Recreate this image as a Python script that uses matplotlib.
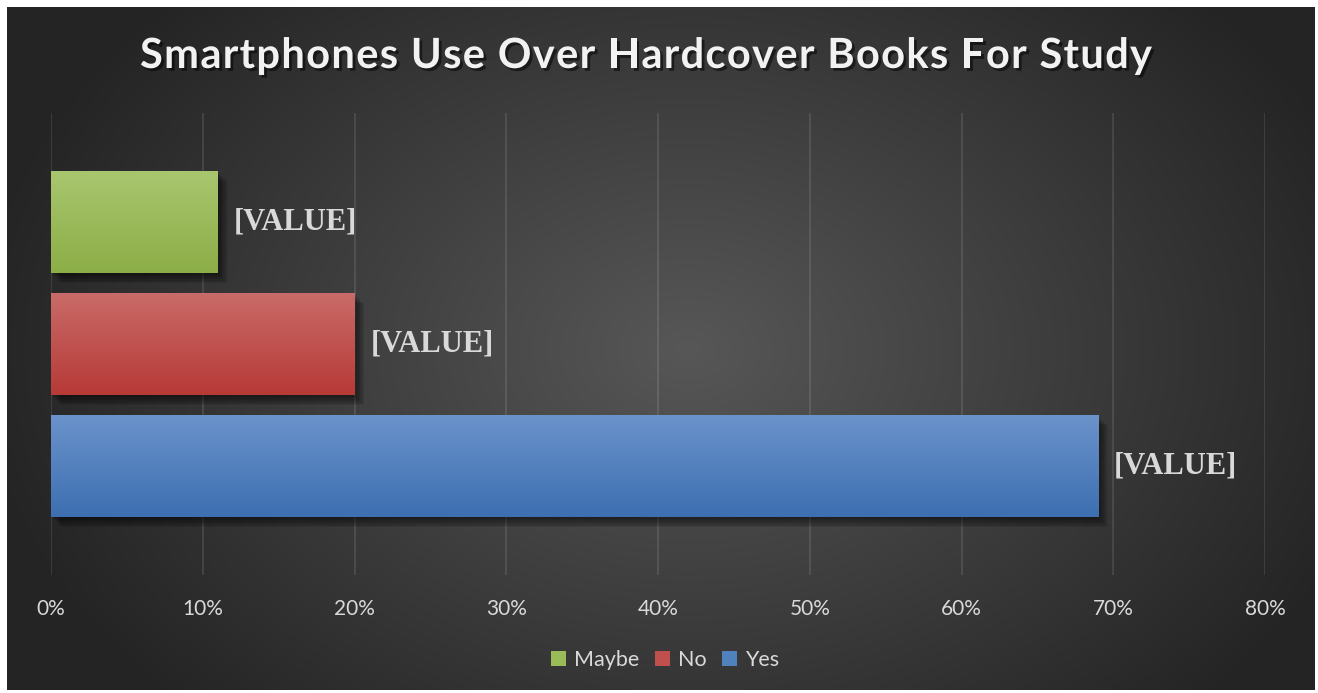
import numpy as np
import matplotlib
matplotlib.use("Agg")
import matplotlib.pyplot as plt
import matplotlib.patheffects as pe
from matplotlib.colors import to_rgb
from matplotlib.patches import Patch

# ---- data ----
categories = ["Maybe", "No", "Yes"]
values = [11, 20, 69]
value_labels = ["[VALUE]", "[VALUE]", "[VALUE]"]
xticks = [0, 10, 20, 30, 40, 50, 60, 70, 80]
xtick_labels = ["0%", "10%", "20%", "30%", "40%", "50%", "60%", "70%", "80%"]
title = "Smartphones Use Over Hardcover Books For Study"

top_colors = ["#a9c66f", "#c96b68", "#6b93cb"]
bot_colors = ["#8cae47", "#b73a37", "#3d6fb1"]
legend_colors = ["#9bbb59", "#c0504d", "#4f81bd"]

W, H = 1318, 693
fig = plt.figure(figsize=(W / 100, H / 100), dpi=100)
fig.patch.set_facecolor("white")

# background radial gradient
bg = fig.add_axes([7 / W, 3 / H, (1315 - 7) / W, 683 / H], zorder=-10)
ny, nx = 300, 600
yy, xx = np.mgrid[0:ny, 0:nx]
cx, cy = nx * 0.52, ny * 0.50
d = np.sqrt(((xx - cx) / (nx * 0.55)) ** 2 + ((yy - cy) / (ny * 0.75)) ** 2)
d = np.clip(d, 0, 1)
c_in = np.array(to_rgb("#575757"))
c_out = np.array(to_rgb("#242424"))
img = c_in[None, None, :] * (1 - d[..., None]) + c_out[None, None, :] * d[..., None]
bg.imshow(img, aspect="auto", extent=(0, 1, 0, 1), interpolation="bilinear")
bg.set_axis_off()

ax = fig.add_axes([51 / W, 1 - 575 / H, (1265 - 51) / W, (575 - 113) / H])
ax.set_facecolor("none")

shadow = [pe.SimplePatchShadow(offset=(o, -o - 0.5), shadow_rgbFace="black", alpha=0.09)
          for o in [7, 6, 5, 4, 3, 2, 1]] + [pe.Normal()]
bars = ax.barh(categories, values, height=0.836, color=legend_colors, zorder=3,
               path_effects=shadow)
ax.set_xlim(0, 80)
ax.set_ylim(2.894, -0.893)

# gradient fills clipped to bars
for bar, tc, bc in zip(bars, top_colors, bot_colors):
    x0, y0, w, h = bar.get_x(), bar.get_y(), bar.get_width(), bar.get_height()
    t = np.linspace(0, 1, 100)[:, None, None]
    grad = np.array(to_rgb(tc))[None, None, :] * (1 - t) + np.array(to_rgb(bc))[None, None, :] * t
    im = ax.imshow(grad, extent=(x0, x0 + w, y0 + h, y0), origin="upper", aspect="auto",
                   zorder=4, interpolation="bilinear")
    im.set_clip_path(bar)
ax.set_xlim(0, 80)
ax.set_ylim(2.894, -0.893)

# value labels
for bar, lab in zip(bars, value_labels):
    ax.annotate(lab, xy=(bar.get_width(), bar.get_y() + bar.get_height() / 2),
                xytext=(16, 0), textcoords="offset pixels", va="center", ha="left",
                fontsize=22, fontweight="bold", family="Liberation Serif", color="#d9d9d9",
                zorder=6)

ax.set_xticks(xticks)
ax.set_xticklabels(xtick_labels, fontsize=15, family="Lato", color="#d9d9d9")
ax.tick_params(axis="x", length=0, pad=17)
ax.set_yticks([])
ax.grid(axis="x", color="#ffffff", alpha=0.12, linewidth=1.2, zorder=0)
for s in ax.spines.values():
    s.set_visible(False)

# title with letter spacing
renderer = fig.canvas.get_renderer()
tkw = dict(fontsize=30, fontweight="bold", family="Lato", color="#f2f2f2", va="center", ha="left",
           path_effects=[pe.withSimplePatchShadow(offset=(2, -2), shadow_rgbFace="black", alpha=0.5)])
target_left, target_right = 140, 1152
ty = 1 - 56 / H
widths = []
for ch in title:
    tt = fig.text(0, 0, ch if ch != " " else "a a", **tkw)
    wv = tt.get_window_extent(renderer).width
    if ch == " ":
        ta = fig.text(0, 0, "aa", **tkw)
        wv = wv - ta.get_window_extent(renderer).width
        ta.remove()
    widths.append(wv)
    tt.remove()
total = sum(widths)
extra = (target_right - target_left - total) / (len(title) - 1)
xpos = target_left
for ch, wv in zip(title, widths):
    if ch != " ":
        fig.text(xpos / W, ty, ch, **tkw)
    xpos += wv + extra

handles = [Patch(facecolor=c, edgecolor="none") for c in legend_colors]
leg = fig.legend(handles, categories, loc="center", bbox_to_anchor=(665 / W, 1 - 660 / H), ncol=3,
                 frameon=False, prop={"family": "Lato", "size": 15.5}, handlelength=0.7,
                 handleheight=0.7, handletextpad=0.35, columnspacing=0.75, labelcolor="#d9d9d9")

fig.savefig("out.png", dpi=100, facecolor=fig.get_facecolor())
